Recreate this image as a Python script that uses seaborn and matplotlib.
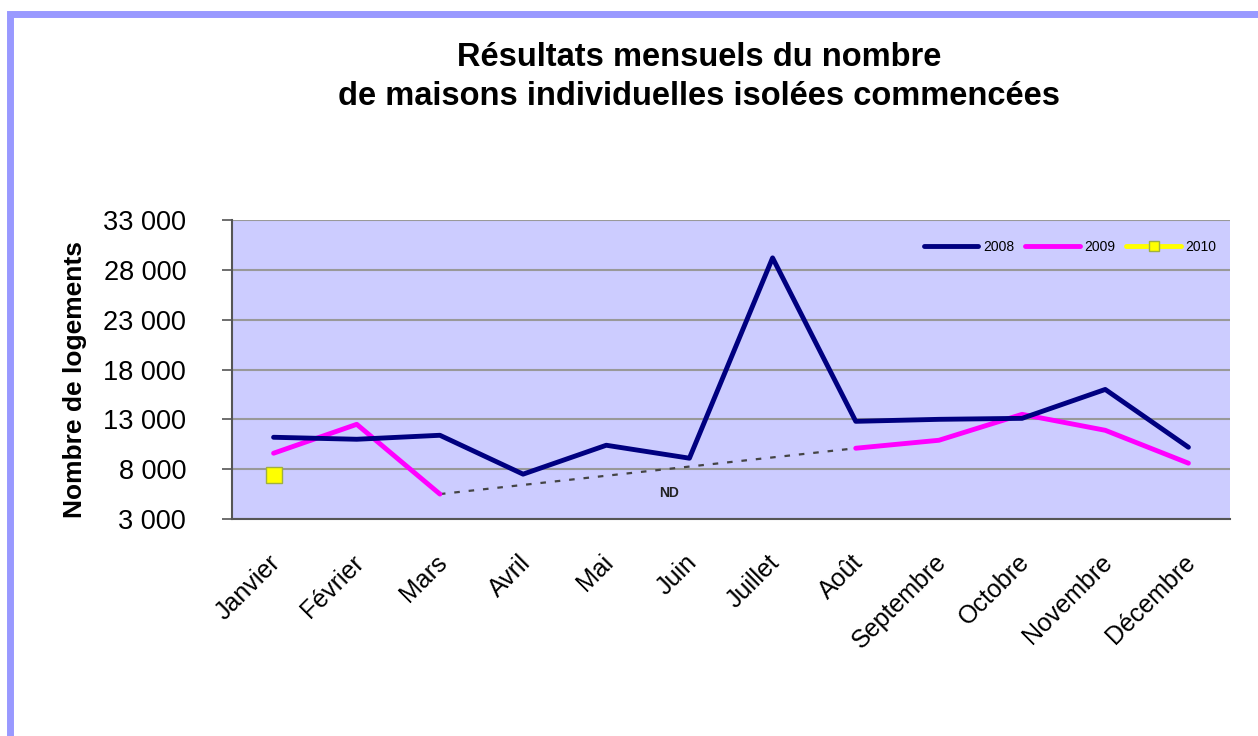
import numpy as np
import pandas as pd
import matplotlib
matplotlib.use("Agg")
import matplotlib.pyplot as plt
import matplotlib.transforms as mtrans
import seaborn as sns
from matplotlib.patches import Rectangle

# ===========================
#   DATA
# ===========================
mois = ["Janvier", "Février", "Mars", "Avril", "Mai", "Juin", "Juillet",
        "Août", "Septembre", "Octobre", "Novembre", "Décembre"]
v2008 = [11200, 11000, 11400, 7500, 10400, 9100, 29200, 12800, 13000, 13100, 16000, 10200]
v2009 = [9600, 12500, 5500, np.nan, np.nan, np.nan, np.nan, 10100, 10900, 13500, 11900, 8600]
v2010 = [7400] + [np.nan] * 11
yticks = [3000, 8000, 13000, 18000, 23000, 28000, 33000]

pos = np.arange(len(mois))
df = pd.DataFrame({"pos": pos, "2008": v2008, "2009": v2009, "2010": v2010})

# ===========================
#   FIGURE
# ===========================
sns.set_style("white")
plt.rcParams["font.family"] = ["Liberation Sans", "DejaVu Sans"]
plt.rcParams["text.color"] = "black"
plt.rcParams["axes.labelcolor"] = "black"
plt.rcParams["xtick.color"] = "black"
plt.rcParams["ytick.color"] = "black"

fig = plt.figure(figsize=(12.58, 7.36), dpi=100)
# blue frame (left + top)
fig.patches.append(Rectangle((10/1258, -0.1), 1.2, 1.1 - 13.5/736, transform=fig.transFigure,
                             fill=False, edgecolor="#9999ff", linewidth=5, zorder=0))

ax = fig.add_axes([232/1258, 1 - 519/736, 998/1258, 299/736])
ax.set_facecolor("#ccccff")

# 2009: first part / second part + ND dashed link
d1 = df.iloc[:3]
d2 = df.iloc[7:]
sns.lineplot(x=d1["pos"], y=d1["2009"], ax=ax, color="#ff00ff", linewidth=3.5, zorder=3)
sns.lineplot(x=d2["pos"], y=d2["2009"], ax=ax, color="#ff00ff", linewidth=3.5, zorder=3)
ax.plot([pos[2], pos[7]], [v2009[2], v2009[7]], color="#444444", linestyle=(0, (2.5, 4)),
        linewidth=1.6, zorder=2)
ax.text(4.75, 5600, "ND", fontsize=10, fontweight="bold", color="#222222", ha="center", va="center")

sns.lineplot(data=df, x="pos", y="2008", ax=ax, color="#000080", linewidth=3.5, zorder=4)

d3 = df.dropna(subset=["2010"])
sns.lineplot(x=d3["pos"], y=d3["2010"], ax=ax, color="#ffff00", marker="s", markersize=11,
             markeredgecolor="#a0b040", markeredgewidth=1, linestyle="none", zorder=5)

# legend handles
h1, = ax.plot([], [], color="#000080", linewidth=3.5, label="2008")
h2, = ax.plot([], [], color="#ff00ff", linewidth=3.5, label="2009")
h3, = ax.plot([], [], color="#ffff00", linewidth=3.5, marker="s", markersize=7,
              markeredgecolor="#a0b040", label="2010")
ax.legend(handles=[h1, h2, h3], loc="upper right", ncol=3, frameon=False, fontsize=10,
          handlelength=3.9, handletextpad=0.35, columnspacing=0.8, bbox_to_anchor=(0.999, 0.975))

# axes
ax.set_xlim(-0.5, 11.5)
ax.set_ylim(3000, 33000)
ax.set_yticks(yticks)
ax.set_yticklabels([f"{v:,}".replace(",", " ") for v in yticks], fontsize=19.5)
ax.yaxis.grid(True, color="#999999", linewidth=1.5)
ax.set_axisbelow(True)

ax.set_xticks(pos)
ax.set_xticklabels(mois, rotation=45, ha="right", rotation_mode="anchor", fontsize=18)
ax.set_xticks(np.arange(-0.5, 12, 1), minor=True)
ax.tick_params(axis="x", which="major", length=0, pad=21)
ax.tick_params(axis="x", which="minor", length=7, width=1.2, color="#555555", direction="out")
ax.tick_params(axis="y", length=7, width=1.2, color="#555555", labelcolor="black",
               direction="out", left=True, pad=26)
# small nudge of the month labels to the left
shift = mtrans.ScaledTranslation(-5/100, -2/100, fig.dpi_scale_trans)
for lab in ax.get_xticklabels():
    lab.set_transform(lab.get_transform() + shift)
for s in ["top", "right"]:
    ax.spines[s].set_visible(False)
for s in ["left", "bottom"]:
    ax.spines[s].set_color("#555555")
    ax.spines[s].set_linewidth(1.5)

ax.set_xlabel("")
ax.set_ylabel("Nombre de logements", fontsize=19, fontweight="bold")
ax.yaxis.set_label_coords((87 - 232) / 998, (519 - 380) / 299)

fig.text(699/1258, 1 - 77/736, "Résultats mensuels du nombre\nde maisons individuelles isolées commencées",
         ha="center", va="center", fontsize=23.5, fontweight="bold", linespacing=1.32)

fig.savefig("out.png", dpi=100)
